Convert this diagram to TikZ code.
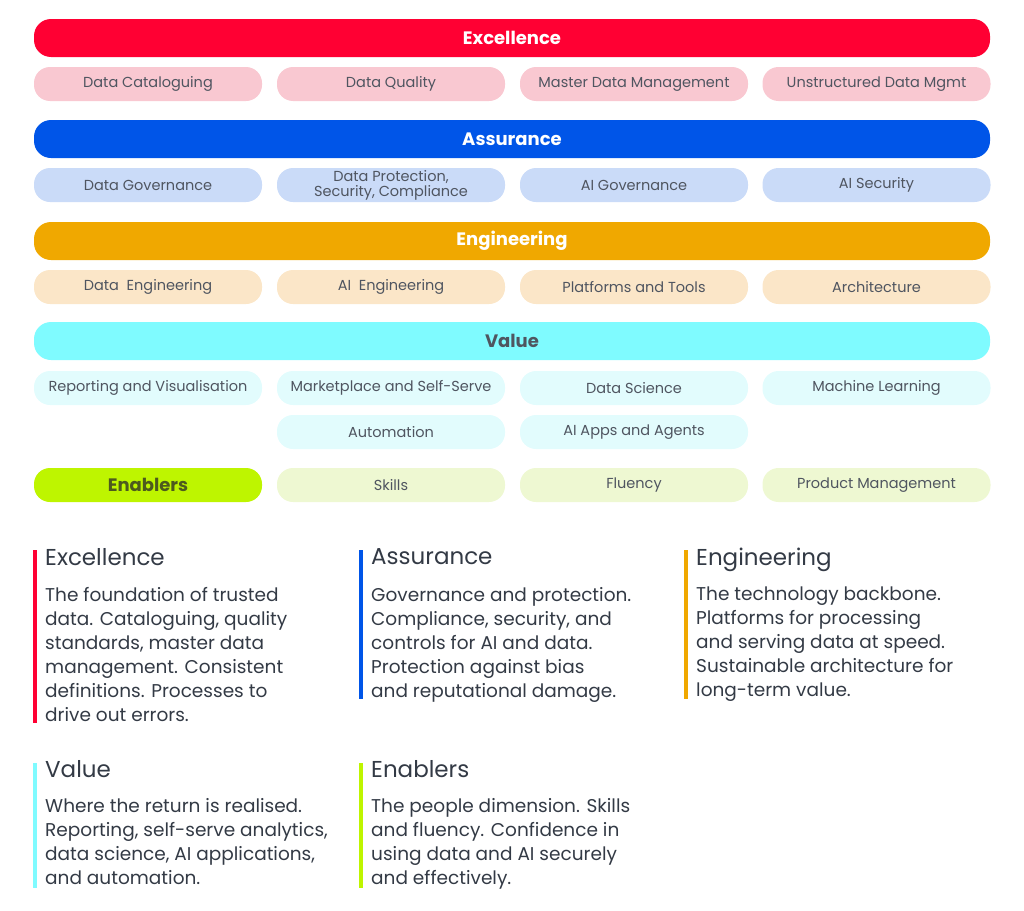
\documentclass[tikz,border=0pt]{standalone}
\usepackage{fontspec}
\setmainfont{Poppins}
\begin{document}
\begin{tikzpicture}[x=1pt,y=-1pt,
 bar/.style={rounded corners=17pt,minimum width=956pt,minimum height=38pt,inner sep=0pt,font=\fontsize{18}{20}\selectfont\bfseries,text=white},
 sub/.style={rounded corners=16pt,minimum width=228pt,minimum height=34pt,inner sep=0pt,align=center,font=\fontsize{14.5}{14}\selectfont,text=txtgrey},
 ttl/.style={anchor=north west,inner sep=0pt,font=\fontsize{23}{26}\selectfont,text=dark},
 body/.style={anchor=north west,inner sep=0pt,align=left,font=\fontsize{18.5}{24}\selectfont,text=dark},
 vb/.style={line width=3.5pt}]
\definecolor{dark}{HTML}{333A45}
\definecolor{txtgrey}{HTML}{4F5560}
\definecolor{engreen}{HTML}{4D5A1E}
\definecolor{cR}{HTML}{FF0033}\definecolor{lR}{HTML}{F9C8D1}
\definecolor{cB}{HTML}{0055E8}\definecolor{lB}{HTML}{CADBF8}
\definecolor{cO}{HTML}{F0A800}\definecolor{lO}{HTML}{FBE6C8}
\definecolor{cC}{HTML}{7FFBFF}\definecolor{lC}{HTML}{E2FCFD}
\definecolor{cL}{HTML}{BEF500}\definecolor{lL}{HTML}{EEF8D2}
\useasboundingbox (0,0) rectangle (1024,910);
\def\xa{148}\def\xb{391}\def\xc{634}\def\xd{876.5}
% Excellence
\node[bar,fill=cR] (ex) at (512,38) {Excellence};
\node[sub,fill=lR] (ex1) at (\xa,84) {Data Cataloguing};
\node[sub,fill=lR] (ex2) at (\xb,84) {Data Quality};
\node[sub,fill=lR] (ex3) at (\xc,84) {Master Data Management};
\node[sub,fill=lR] (ex4) at (\xd,84) {Unstructured Data Mgmt};
% Assurance
\node[bar,fill=cB] (as) at (512,139) {Assurance};
\node[sub,fill=lB] (as1) at (\xa,185) {Data Governance};
\node[sub,fill=lB,font=\fontsize{14.5}{15}\selectfont] (as2) at (\xb,185) {Data Protection,\\Security, Compliance};
\node[sub,fill=lB] (as3) at (\xc,185) {AI Governance};
\node[sub,fill=lB] (as4) at (\xd,185) {AI Security};
% Engineering
\node[bar,fill=cO] (en) at (512,241) {Engineering};
\node[sub,fill=lO] (en1) at (\xa,287) {Data\ \ Engineering};
\node[sub,fill=lO] (en2) at (\xb,287) {AI\ \ Engineering};
\node[sub,fill=lO] (en3) at (\xc,287) {Platforms and Tools};
\node[sub,fill=lO] (en4) at (\xd,287) {Architecture};
% Value
\node[bar,fill=cC,text=txtgrey] (va) at (512,341) {Value};
\node[sub,fill=lC] (va1) at (\xa,388) {Reporting and Visualisation};
\node[sub,fill=lC] (va2) at (\xb,388) {Marketplace and Self-Serve};
\node[sub,fill=lC] (va3) at (\xc,388) {Data Science};
\node[sub,fill=lC] (va4) at (\xd,388) {Machine Learning};
\node[sub,fill=lC] (va5) at (\xb,432) {Automation};
\node[sub,fill=lC] (va6) at (\xc,432) {AI Apps and Agents};
% Enablers
\node[sub,fill=cL,text=engreen,font=\fontsize{18}{20}\selectfont\bfseries] (eb) at (\xa,485) {Enablers};
\node[sub,fill=lL] (eb1) at (\xb,485) {Skills};
\node[sub,fill=lL] (eb2) at (\xc,485) {Fluency};
\node[sub,fill=lL] (eb3) at (\xd,485) {Product Management};
% Descriptions
\draw[vb,cR] (35,550) -- (35,723);
\node[ttl] (t1) at (45,548) {Excellence};
\node[body] (b1) at (45,587) {The foundation of trusted\\data. Cataloguing, quality\\standards, master data\\management. Consistent\\definitions. Processes to\\drive out errors.};
\draw[vb,cB] (361,550) -- (361,699);
\node[ttl] (t2) at (371,548) {Assurance};
\node[body] (b2) at (371,587) {Governance and protection.\\Compliance, security, and\\controls for AI and data.\\Protection against bias\\and reputational damage.};
\draw[vb,cO] (686,550) -- (686,699);
\node[ttl] (t3) at (696,548) {Engineering};
\node[body] (b3) at (696,587) {The technology backbone.\\Platforms for processing\\and serving data at speed.\\Sustainable architecture for\\long-term value.};
\draw[vb,cC] (35,763) -- (35,888);
\node[ttl] (t4) at (45,760) {Value};
\node[body] (b4) at (45,798) {Where the return is realised.\\Reporting, self-serve analytics,\\data science, AI applications,\\and automation.};
\draw[vb,cL] (361,763) -- (361,888);
\node[ttl] (t5) at (371,760) {Enablers};
\node[body] (b5) at (371,798) {The people dimension. Skills\\and fluency. Confidence in\\using data and AI securely\\and effectively.};
\end{tikzpicture}
\end{document}
